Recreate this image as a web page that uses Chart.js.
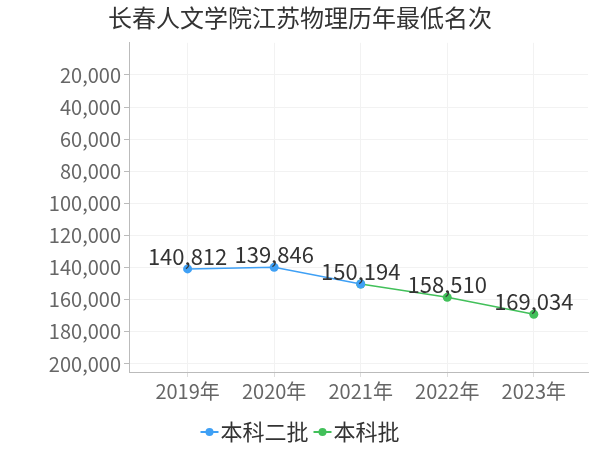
<!DOCTYPE html>
<html>
<head>
<meta charset="utf-8">
<script src="https://cdn.jsdelivr.net/npm/chart.js@4"></script>
<style>
html,body{margin:0;padding:0;background:#fff;}
#wrap{width:600px;height:450px;}
</style>
</head>
<body>
<div id="wrap"><canvas id="c" width="600" height="450"></canvas></div>
<script>
const titleText = '长春人文学院江苏物理历年最低名次';
const categories = ['2019年', '2020年', '2021年', '2022年', '2023年'];
const seriesNames = ['本科二批', '本科批'];
const seriesA = [140812, 139846, 150194, null, null];
const seriesB = [null, null, 150194, 158510, 169034];
const yTicks = [20000, 40000, 60000, 80000, 100000, 120000, 140000, 160000, 180000, 200000];
const colors = ['#3fa0f5', '#42c05a'];
const FONT = '"Noto Sans CJK SC", "Noto Sans", sans-serif';

function toPoints(arr) {
  return arr.map((v, i) => (v === null ? null : {x: i, y: v})).filter(p => p !== null);
}

const labelPlugin = {
  id: 'valueLabels',
  afterDatasetsDraw(chart) {
    const ctx = chart.ctx;
    const done = new Set();
    ctx.save();
    ctx.font = '22px ' + FONT;
    ctx.fillStyle = '#333';
    ctx.textAlign = 'center';
    ctx.textBaseline = 'alphabetic';
    chart.data.datasets.forEach((ds, di) => {
      const meta = chart.getDatasetMeta(di);
      meta.data.forEach((pt, i) => {
        const raw = ds.data[i];
        const key = raw.x;
        if (done.has(key)) return;
        done.add(key);
        ctx.fillText(raw.y.toLocaleString('en-US'), pt.x, pt.y - 4);
      });
    });
    ctx.restore();
  }
};

const legendPlugin = {
  id: 'customLegend',
  afterDraw(chart) {
    const ctx = chart.ctx;
    ctx.save();
    ctx.font = '22px ' + FONT;
    ctx.textBaseline = 'middle';
    ctx.textAlign = 'left';
    const sym = 18, gap = 2, between = 5;
    const items = chart.data.datasets.map(ds => ({text: ds.label, color: ds.borderColor, w: ctx.measureText(ds.label).width}));
    let total = 0;
    items.forEach((it, i) => { total += sym + gap + it.w + (i ? between : 0); });
    let x = 300 - total / 2;
    const y = 432;
    items.forEach((it, i) => {
      if (i) x += between;
      ctx.strokeStyle = it.color;
      ctx.lineWidth = 2;
      ctx.beginPath();
      ctx.moveTo(x, y);
      ctx.lineTo(x + sym, y);
      ctx.stroke();
      ctx.fillStyle = it.color;
      ctx.beginPath();
      ctx.arc(x + sym / 2, y, 4, 0, Math.PI * 2);
      ctx.fill();
      x += sym + gap;
      ctx.fillStyle = '#333';
      ctx.fillText(it.text, x, y);
      x += it.w;
    });
    ctx.restore();
  }
};

new Chart(document.getElementById('c'), {
  type: 'line',
  data: {
    datasets: [
      {label: seriesNames[0], data: toPoints(seriesA), borderColor: colors[0], backgroundColor: colors[0],
       pointBackgroundColor: colors[0], pointBorderWidth: 0, pointRadius: 4.5, borderWidth: 1.5, tension: 0},
      {label: seriesNames[1], data: toPoints(seriesB), borderColor: colors[1], backgroundColor: colors[1],
       pointBackgroundColor: colors[1], pointBorderWidth: 0, pointRadius: 4.5, borderWidth: 1.5, tension: 0}
    ]
  },
  options: {
    responsive: false,
    animation: false,
    devicePixelRatio: 1,
    layout: {padding: {left: 12, right: 12, top: 0, bottom: 0}},
    plugins: {
      legend: {display: false},
      tooltip: {enabled: false},
      title: {display: true, text: titleText, color: '#333', font: {family: FONT, size: 24, weight: 'normal'},
              padding: {top: 3, bottom: 11}}
    },
    scales: {
      x: {
        type: 'linear', min: -0.677, max: 4.626,
        afterBuildTicks(s) { s.ticks = categories.map((c, i) => ({value: i})); },
        afterFit(s) { s.height = 78; },
        ticks: {color: '#666', font: {family: FONT, size: 20}, padding: 2, maxRotation: 0, autoSkip: false,
                callback: v => categories[v]},
        grid: {color: '#f2f2f2', tickColor: '#ddd', tickLength: 5},
        border: {color: '#bbb'}
      },
      y: {
        reverse: true, min: 0, max: 205000,
        afterBuildTicks(s) { s.ticks = yTicks.map(v => ({value: v})); },
        afterFit(s) { s.width = 117; },
        ticks: {color: '#666', font: {family: FONT, size: 20}, padding: 3,
                callback: v => Number(v).toLocaleString('en-US')},
        grid: {color: '#f2f2f2', tickColor: '#bbb', tickLength: 5},
        border: {color: '#bbb'}
      }
    }
  },
  plugins: [labelPlugin, legendPlugin]
});
</script>
</body>
</html>
